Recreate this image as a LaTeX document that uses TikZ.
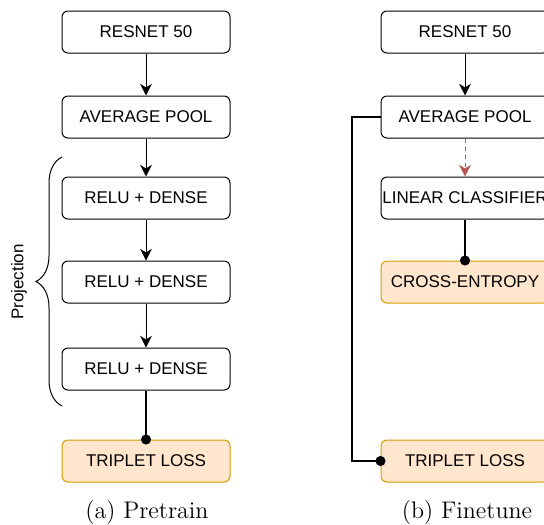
\documentclass[tikz,border=0pt]{standalone}
\usepackage{fontspec}
\newfontfamily\boxfont{Liberation Sans}
\usetikzlibrary{arrows.meta,decorations.pathreplacing}
\definecolor{lossfill}{RGB}{255,230,204}
\definecolor{lossdraw}{RGB}{215,155,0}
\definecolor{dashred}{RGB}{184,84,80}
\begin{document}
\begin{tikzpicture}[x=0.6pt, y=-0.6pt, >={Stealth[length=7pt,width=7pt,inset=2.2pt]},
  blk/.style={draw, rounded corners=3.6pt, line width=0.6pt, minimum width=100.8pt, minimum height=25.2pt, inner xsep=0pt, font=\boxfont\fontsize{10.2}{12}\selectfont},
  loss/.style={blk, draw=lossdraw, fill=lossfill},
  flow/.style={->, line width=0.6pt},
  hit/.style={-{Circle[length=6pt]}, line width=1.2pt, shorten >=-3pt},
  subcap/.style={font=\fontsize{14.4}{17}\selectfont}]
\useasboundingbox (0,0) rectangle (544,524);
\node[blk] (lres) at (146,32) {RESNET 50};
\node[blk] (lavg) at (146,117) {AVERAGE POOL};
\node[blk] (lrelua) at (146,198) {RELU + DENSE};
\node[blk] (lrelub) at (146,282) {RELU + DENSE};
\node[blk] (lreluc) at (146,369) {RELU + DENSE};
\node[loss] (ltrip) at (146,461) {TRIPLET LOSS};
\draw[flow] (lres) -- (lavg);
\draw[flow] (lavg) -- (lrelua);
\draw[flow] (lrelua) -- (lrelub);
\draw[flow] (lrelub) -- (lreluc);
\draw[hit] (lreluc) -- (ltrip);
\draw[line width=0.6pt, decorate, decoration={brace, amplitude=15.6pt}] (62,406) -- (62,157);
\node[rotate=90, font=\boxfont\fontsize{10.2}{12}\selectfont] (proj) at (19,282) {Projection};
\node[subcap] (capa) at (147,512) {(a) Pretrain};

\node[blk] (rres) at (465,32) {RESNET 50};
\node[blk] (ravg) at (465,117) {AVERAGE POOL};
\node[blk] (rlin) at (465,198) {LINEAR CLASSIFIER};
\node[loss] (rce) at (465,282) {CROSS-ENTROPY};
\node[loss] (rtrip) at (465,461) {TRIPLET LOSS};
\draw[flow] (rres) -- (ravg);
\draw[flow, draw=dashred, fill=dashred, dash pattern=on 2.4pt off 2.4pt] (ravg) -- (rlin);
\draw[hit] (rlin) -- (rce);
\draw[hit] (ravg.west) -- ++(-29,0) |- (rtrip.west);
\node[subcap] (capb) at (467,512) {(b) Finetune};
\end{tikzpicture}
\end{document}
